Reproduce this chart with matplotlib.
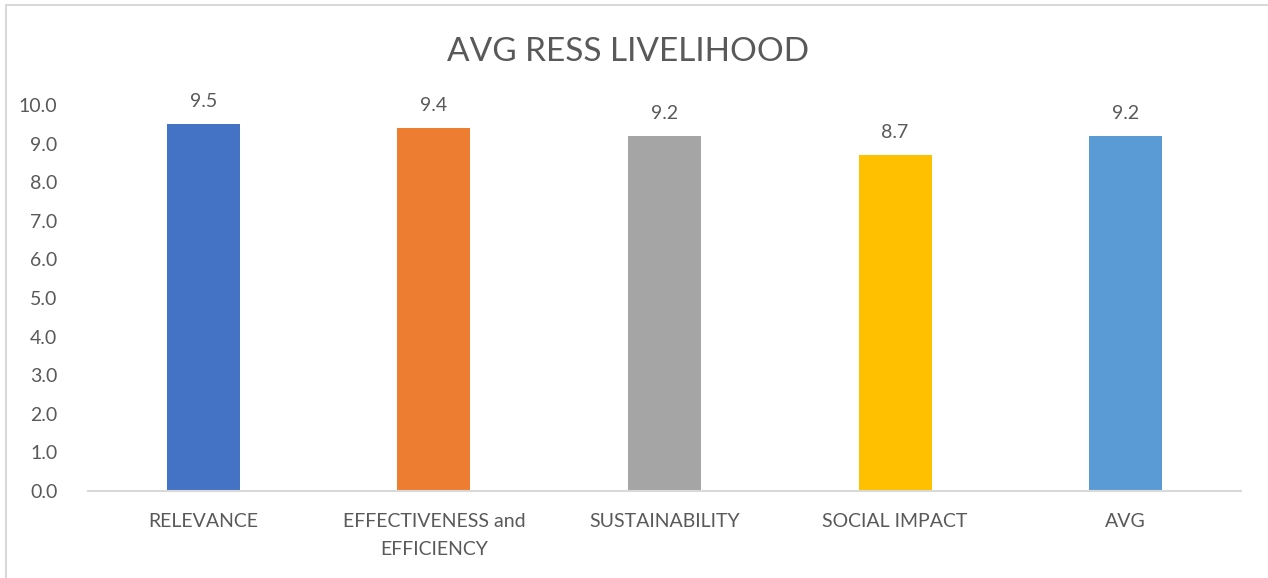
import matplotlib
matplotlib.use("Agg")
import matplotlib.pyplot as plt
from matplotlib.patches import Rectangle

categories = ["RELEVANCE", "EFFECTIVENESS and\nEFFICIENCY", "SUSTAINABILITY", "SOCIAL IMPACT", "AVG"]
values = [9.5, 9.4, 9.2, 8.7, 9.2]
colors = ["#4472C4", "#ED7D31", "#A5A5A5", "#FFC000", "#5B9BD5"]
yticks = [0, 1, 2, 3, 4, 5, 6, 7, 8, 9, 10]
title = "AVG RESS LIVELIHOOD"

plt.rcParams['font.family'] = ['Lato', 'DejaVu Sans']
txt = "#595959"

fig = plt.figure(figsize=(12.68, 5.78), dpi=100)
fig.patches.append(Rectangle((6/1268, -0.05), 1.1, (1 - 5/578) + 0.05, transform=fig.transFigure,
                             fill=False, edgecolor="#D9D9D9", linewidth=1.5))
ax = fig.add_axes([88/1268, 1 - 491/578, (1241 - 88)/1268, (491 - 105)/578])
x = list(range(len(categories)))
ax.bar(x, values, width=0.317, color=colors)
ax.set_xlim(-0.5, len(categories) - 0.5)
ax.set_ylim(0, 10)
ax.set_yticks(yticks)
ax.set_yticklabels([f"{v:.1f}" for v in yticks], color=txt, fontsize=14)
ax.set_xticks(x)
ax.set_xticklabels(categories, color=txt, fontsize=14, linespacing=1.75)
ax.tick_params(axis='both', length=0)
ax.tick_params(axis='y', pad=22)
ax.tick_params(axis='x', pad=16)
for s in ["top", "right", "left"]:
    ax.spines[s].set_visible(False)
ax.spines["bottom"].set_color("#D9D9D9")
ax.spines["bottom"].set_linewidth(1.5)
for xi, v in zip(x, values):
    ax.annotate(f"{v:.1f}", (xi, v), xytext=(0, 10), textcoords="offset points",
                ha="center", va="bottom", color=txt, fontsize=14)
fig.text(628/1268, 1 - 52/578, title, ha="center", va="center", color=txt, fontsize=24)
fig.savefig("out.png", dpi=100)
